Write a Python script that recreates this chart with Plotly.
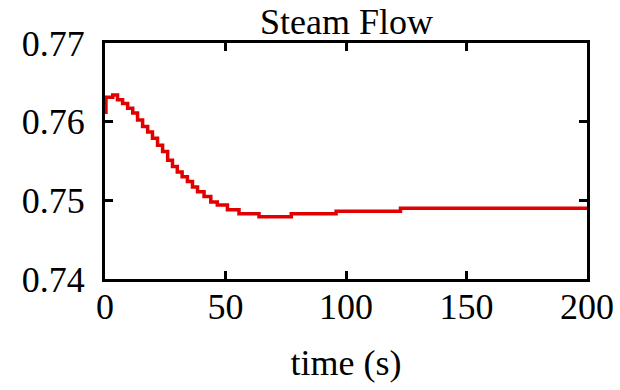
import plotly.graph_objects as go

# Steam flow response (step-held samples)
time_s = [0, 0.4, 3.2, 5.2, 7.3, 9.4, 11.5, 13.5, 15.6, 17.7, 19.7, 21.8, 23.9,
          26.0, 28.0, 30.0, 32.0, 34.2, 36.3, 38.4, 41.1, 43.9, 46.6, 50.8,
          55.6, 63.9, 77.3, 95.9, 122.6, 200]
steam_flow = [0.7612, 0.7631, 0.7634, 0.7628, 0.7623, 0.7617, 0.7611, 0.7602,
              0.7594, 0.7587, 0.7579, 0.7570, 0.7562, 0.7551, 0.7543, 0.7536,
              0.7530, 0.7524, 0.7517, 0.7511, 0.7505, 0.7498, 0.7494, 0.7488,
              0.7483, 0.7479, 0.7483, 0.7486, 0.7490, 0.7490]

x_ticks = [0, 50, 100, 150, 200]
y_ticks = [0.74, 0.75, 0.76, 0.77]
y_tick_labels = ["0.74", "0.75", "0.76", "0.77"]

FONT = "Liberation Serif, Times New Roman, serif"

fig = go.Figure(
    go.Scatter(
        x=time_s,
        y=steam_flow,
        mode="lines",
        line=dict(color="#e00000", width=3.5, shape="hv"),
        showlegend=False,
    )
)

axis_common = dict(
    showline=True,
    linecolor="black",
    linewidth=3,
    mirror="ticks",
    ticks="inside",
    ticklen=8,
    tickwidth=3,
    tickcolor="black",
    showgrid=False,
    zeroline=False,
    tickfont=dict(family=FONT, size=36, color="black"),
)

fig.update_xaxes(
    range=[0, 200],
    tickvals=x_ticks,
    ticktext=[str(v) for v in x_ticks],
    title=dict(text="time (s)", font=dict(family=FONT, size=36, color="black"), standoff=24),
    ticklabelstandoff=-6,
    **axis_common,
)
fig.update_yaxes(
    range=[0.74, 0.77],
    tickvals=y_ticks,
    ticktext=y_tick_labels,
    ticklabelstandoff=10,
    **axis_common,
)

fig.update_layout(
    width=620,
    height=390,
    margin=dict(l=105, r=33, t=43, b=111, autoexpand=False),
    paper_bgcolor="white",
    plot_bgcolor="white",
    annotations=[
        dict(
            text="Steam Flow",
            font=dict(family=FONT, size=36, color="black"),
            x=0.5,
            xref="paper",
            xanchor="center",
            y=1,
            yref="paper",
            yanchor="bottom",
            yshift=-1,
            showarrow=False,
        )
    ],
)

fig.write_html("out.html")
